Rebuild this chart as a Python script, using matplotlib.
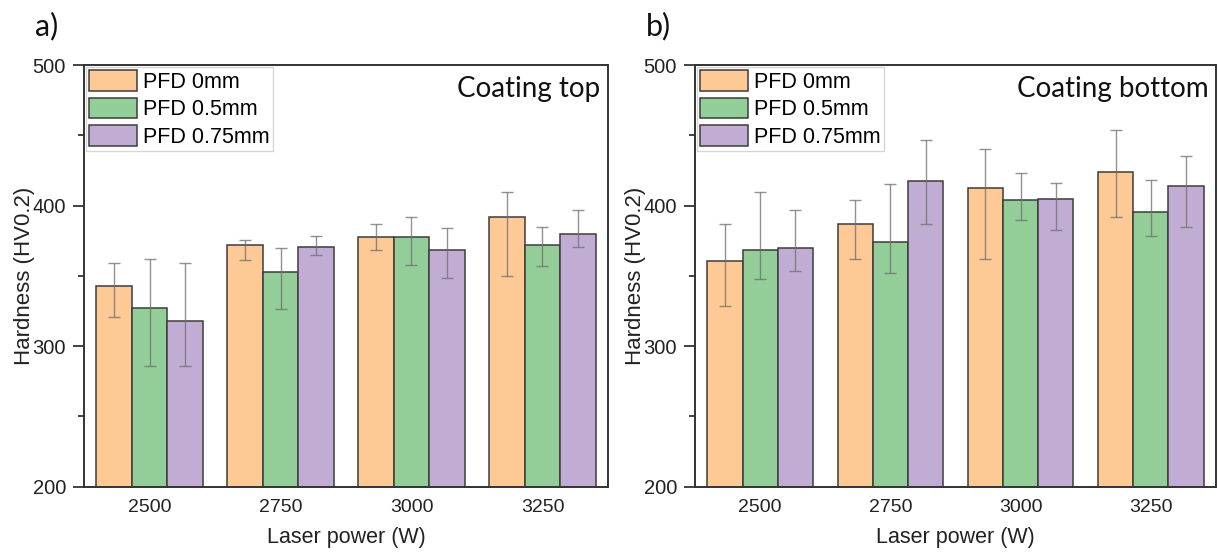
import numpy as np
import matplotlib
matplotlib.use("Agg")
import matplotlib.pyplot as plt
from matplotlib.ticker import MultipleLocator

plt.rcParams["font.family"] = ["Liberation Sans", "DejaVu Sans"]

# ── 数据 ──
powers = ["2500", "2750", "3000", "3250"]
series_labels = ["PFD 0mm", "PFD 0.5mm", "PFD 0.75mm"]
fill_colors = ["#FDC994", "#93CD98", "#C1ADD3"]

# a) 涂层顶部
top_mean_0 = [342.7, 371.8, 377.7, 391.7]
top_hi_0 = [359.2, 375.8, 387.0, 409.7]
top_lo_0 = [320.9, 361.6, 368.7, 349.8]
top_mean_05 = [326.8, 352.8, 377.7, 371.8]
top_hi_05 = [362.1, 369.9, 391.7, 384.8]
top_lo_05 = [285.8, 326.1, 357.6, 356.9]
top_mean_075 = [317.8, 370.6, 368.7, 380.1]
top_hi_075 = [359.2, 378.7, 384.1, 396.9]
top_lo_075 = [285.8, 364.9, 348.8, 370.6]

# b) 涂层底部
bot_mean_0 = [360.8, 386.7, 412.8, 424.0]
bot_hi_0 = [386.9, 403.8, 440.4, 453.9]
bot_lo_0 = [328.7, 361.8, 361.8, 391.7]
bot_mean_05 = [368.6, 373.9, 403.8, 395.7]
bot_hi_05 = [409.5, 415.4, 423.3, 418.1]
bot_lo_05 = [347.5, 351.8, 389.8, 378.6]
bot_mean_075 = [369.8, 417.8, 404.8, 414.0]
bot_hi_075 = [397.1, 446.3, 416.2, 435.2]
bot_lo_075 = [353.7, 386.7, 382.9, 384.8]

panels = [
    ("a)", "Coating top",
     [(top_mean_0, top_lo_0, top_hi_0),
      (top_mean_05, top_lo_05, top_hi_05),
      (top_mean_075, top_lo_075, top_hi_075)]),
    ("b)", "Coating bottom",
     [(bot_mean_0, bot_lo_0, bot_hi_0),
      (bot_mean_05, bot_lo_05, bot_hi_05),
      (bot_mean_075, bot_lo_075, bot_hi_075)]),
]

W, H = 1218, 556
fig = plt.figure(figsize=(W / 100, H / 100), dpi=100)
axes_px = [(84, 608), (695, 1216)]
ax_top, ax_bot = 65, 486.7

bar_w = 0.27
x = np.arange(len(powers))

for (letter, title, series), (x0, x1) in zip(panels, axes_px):
    ax = fig.add_axes([x0 / W, 1 - ax_bot / H, (x1 - x0) / W, (ax_bot - ax_top) / H])

    for i, (mean, lo, hi) in enumerate(series):
        mean = np.array(mean)
        pos = x + (i - 1) * bar_w
        ax.bar(pos, mean, width=bar_w, color=fill_colors[i], edgecolor="#3c3c3c",
               linewidth=1.1, label=series_labels[i], zorder=2)
        yerr = [mean - np.array(lo), np.array(hi) - mean]
        ax.errorbar(pos, mean, yerr=yerr, fmt="none", ecolor="#6e6e6e", alpha=0.75,
                    elinewidth=1.0, capsize=4, capthick=1.0, zorder=3)

    ax.set_xlim(-0.5, len(powers) - 0.5)
    ax.set_ylim(200, 500)
    ax.set_xticks(x)
    ax.set_xticklabels(powers)
    ax.yaxis.set_major_locator(MultipleLocator(100))
    ax.yaxis.set_minor_locator(MultipleLocator(50))
    ax.tick_params(axis="x", length=0, labelsize=14, pad=9, colors="#222222")
    ax.tick_params(axis="y", which="major", direction="out", length=8, width=1.2,
                   labelsize=14.5, pad=5, colors="#222222")
    ax.tick_params(axis="y", which="minor", direction="out", length=4, width=1.2,
                   colors="#222222")
    for sp in ax.spines.values():
        sp.set_linewidth(1.4)
        sp.set_color("#333333")

    ax.set_xlabel("Laser power (W)", fontsize=15.5, color="#222222", labelpad=8)
    ax.set_ylabel("Hardness (HV0.2)", fontsize=16, color="#222222")
    ax.yaxis.set_label_coords(-49 / (x1 - x0), 0.5)

    leg = ax.legend(loc="upper left", fontsize=15.5, frameon=True, fancybox=False,
                    edgecolor="#cccccc", borderpad=0.15, borderaxespad=0.1,
                    handlelength=2.2, handleheight=1.1, handletextpad=0.3,
                    labelspacing=0.22)
    leg.get_frame().set_linewidth(1.0)

    ax.text(0.985, 0.975, title, transform=ax.transAxes, ha="right", va="top",
            fontsize=20, family=["Lato", "DejaVu Sans"], color="#111111")
    fig.text((x0 - 49) / W, 1 - 26 / H, letter, ha="left", va="center",
             fontsize=22, family=["Lato", "DejaVu Sans"], color="#111111")

fig.savefig("out.png", dpi=100)
